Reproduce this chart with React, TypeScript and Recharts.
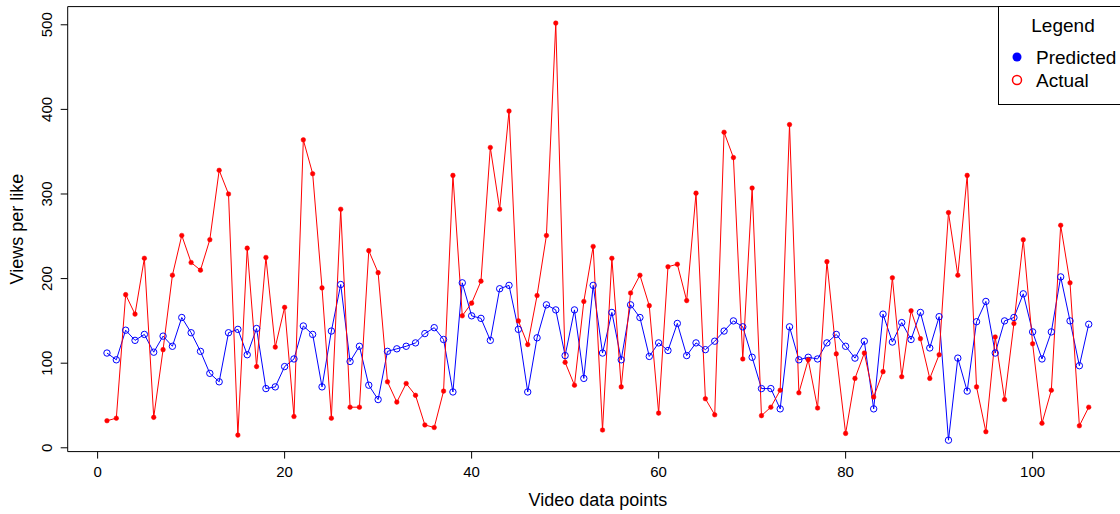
import React from 'react';
import { LineChart, Line, XAxis, YAxis, ReferenceArea } from 'recharts';

// Views per like for each video, model prediction vs observed value
const predicted = [
  112, 104, 139, 127, 134, 113, 132, 120, 154, 136,
  114, 88, 78, 136, 140, 110, 141, 70, 72, 96,
  105, 144, 134, 72, 138, 193, 102, 120, 74, 57,
  114, 117, 120, 124, 135, 142, 128, 66, 195, 156,
  153, 127, 188, 192, 140, 66, 130, 169, 163, 109,
  163, 82, 192, 112, 160, 104, 169, 154, 108, 124,
  115, 147, 109, 124, 116, 126, 138, 150, 143, 107,
  70, 70, 46, 143, 104, 107, 105, 124, 134, 120,
  106, 126, 46, 158, 125, 148, 128, 160, 118, 155,
  9, 106, 67, 149, 173, 112, 150, 154, 182, 137,
  105, 137, 202, 150, 97, 146,
];

const actual = [
  32, 35, 181, 158, 224, 36, 116, 204, 251, 219,
  210, 246, 328, 300, 15, 236, 96, 225, 119, 166,
  37, 364, 324, 189, 35, 282, 48, 48, 233, 207,
  78, 54, 76, 62, 27, 24, 67, 322, 156, 171,
  197, 355, 282, 398, 150, 122, 180, 251, 502, 101,
  74, 173, 238, 21, 224, 72, 183, 204, 168, 41,
  214, 217, 174, 301, 58, 39, 373, 343, 105, 307,
  38, 48, 68, 382, 65, 104, 47, 220, 111, 17,
  82, 112, 60, 90, 201, 84, 162, 129, 82, 110,
  278, 204, 322, 72, 19, 131, 57, 147, 246, 123,
  29, 68, 263, 195, 26, 48,
];

const xTicks = [0, 20, 40, 60, 80, 100];
const yTicks = [0, 100, 200, 300, 400, 500];

const data = actual.map((a, i) => ({ idx: i + 1, actual: a, predicted: predicted[i] }));

const FONT = '"Liberation Sans", Arial, Helvetica, sans-serif';
const X_DOMAIN: [number, number] = [-3.2, 110.2];
const Y_DOMAIN: [number, number] = [-4.5, 521.5];

function YTick({ x, y, payload }: any) {
  return (
    <text
      x={x}
      y={y}
      transform={`rotate(-90 ${x} ${y})`}
      textAnchor="middle"
      fontSize={15}
      fontFamily={FONT}
      fill="#000"
    >
      {payload.value}
    </text>
  );
}

function ChartLegend() {
  return (
    <svg
      width={200}
      height={100}
      style={{ position: 'absolute', left: 998, top: 6 }}
    >
      <rect x={0.5} y={0.5} width={190} height={98} fill="#fff" stroke="#000" strokeWidth={1} />
      <text x={65} y={19} textAnchor="middle" dominantBaseline="central" fontSize={19} fontFamily={FONT} fill="#000">
        Legend
      </text>
      <circle cx={19} cy={51} r={4.5} fill="#0000ff" />
      <text x={38} y={51} dominantBaseline="central" fontSize={19} fontFamily={FONT} fill="#000">
        Predicted
      </text>
      <circle cx={19} cy={74} r={4.5} fill="none" stroke="#ff0000" strokeWidth={1.5} />
      <text x={38} y={74} dominantBaseline="central" fontSize={19} fontFamily={FONT} fill="#000">
        Actual
      </text>
    </svg>
  );
}

export default function App() {
  return (
    <div
      style={{
        position: 'absolute',
        left: 0,
        top: 0,
        width: 1120,
        height: 514,
        overflow: 'hidden',
        background: '#fff',
      }}
    >
      <LineChart
        width={1140}
        height={514}
        data={data}
        margin={{ top: 6.6, right: 12, left: 0, bottom: 0 }}
      >
        <XAxis
          dataKey="idx"
          type="number"
          domain={X_DOMAIN}
          ticks={xTicks}
          allowDataOverflow
          height={62.4}
          axisLine={false}
          tickSize={7}
          tickMargin={8}
          tickLine={{ stroke: '#000' }}
          tick={{ fontSize: 15, fontFamily: FONT, fill: '#000' }}
          label={{
            content: ({ viewBox }: any) => (
              <text
                x={viewBox.x + viewBox.width / 2}
                y={viewBox.y + 48.4}
                textAnchor="middle"
                dominantBaseline="central"
                fontSize={18}
                fontFamily={FONT}
                fill="#000"
              >
                Video data points
              </text>
            ),
          }}
        />
        <YAxis
          type="number"
          domain={Y_DOMAIN}
          ticks={yTicks}
          allowDataOverflow
          width={67.7}
          axisLine={false}
          tickSize={7}
          tickMargin={8.7}
          tickLine={{ stroke: '#000' }}
          tick={<YTick />}
          label={{
            content: ({ viewBox }: any) => {
              const cx = 17;
              const cy = viewBox.y + viewBox.height / 2;
              return (
                <text
                  x={cx}
                  y={cy}
                  transform={`rotate(-90 ${cx} ${cy})`}
                  textAnchor="middle"
                  dominantBaseline="central"
                  fontSize={18}
                  fontFamily={FONT}
                  fill="#000"
                >
                  Views per like
                </text>
              );
            },
          }}
        />
        <ReferenceArea
          x1={X_DOMAIN[0]}
          x2={X_DOMAIN[1]}
          y1={Y_DOMAIN[0]}
          y2={Y_DOMAIN[1]}
          fill="none"
          stroke="#000"
          strokeWidth={1}
          ifOverflow="visible"
        />
        <Line
          dataKey="predicted"
          stroke="#0000ff"
          strokeWidth={1}
          dot={{ r: 3.2, stroke: '#0000ff', strokeWidth: 1, fill: 'none' }}
          activeDot={false}
          isAnimationActive={false}
        />
        <Line
          dataKey="actual"
          stroke="#ff0000"
          strokeWidth={1}
          dot={{ r: 2.3, stroke: '#ff0000', strokeWidth: 0.5, fill: '#ff0000' }}
          activeDot={false}
          isAnimationActive={false}
        />
      </LineChart>
      <ChartLegend />
    </div>
  );
}
